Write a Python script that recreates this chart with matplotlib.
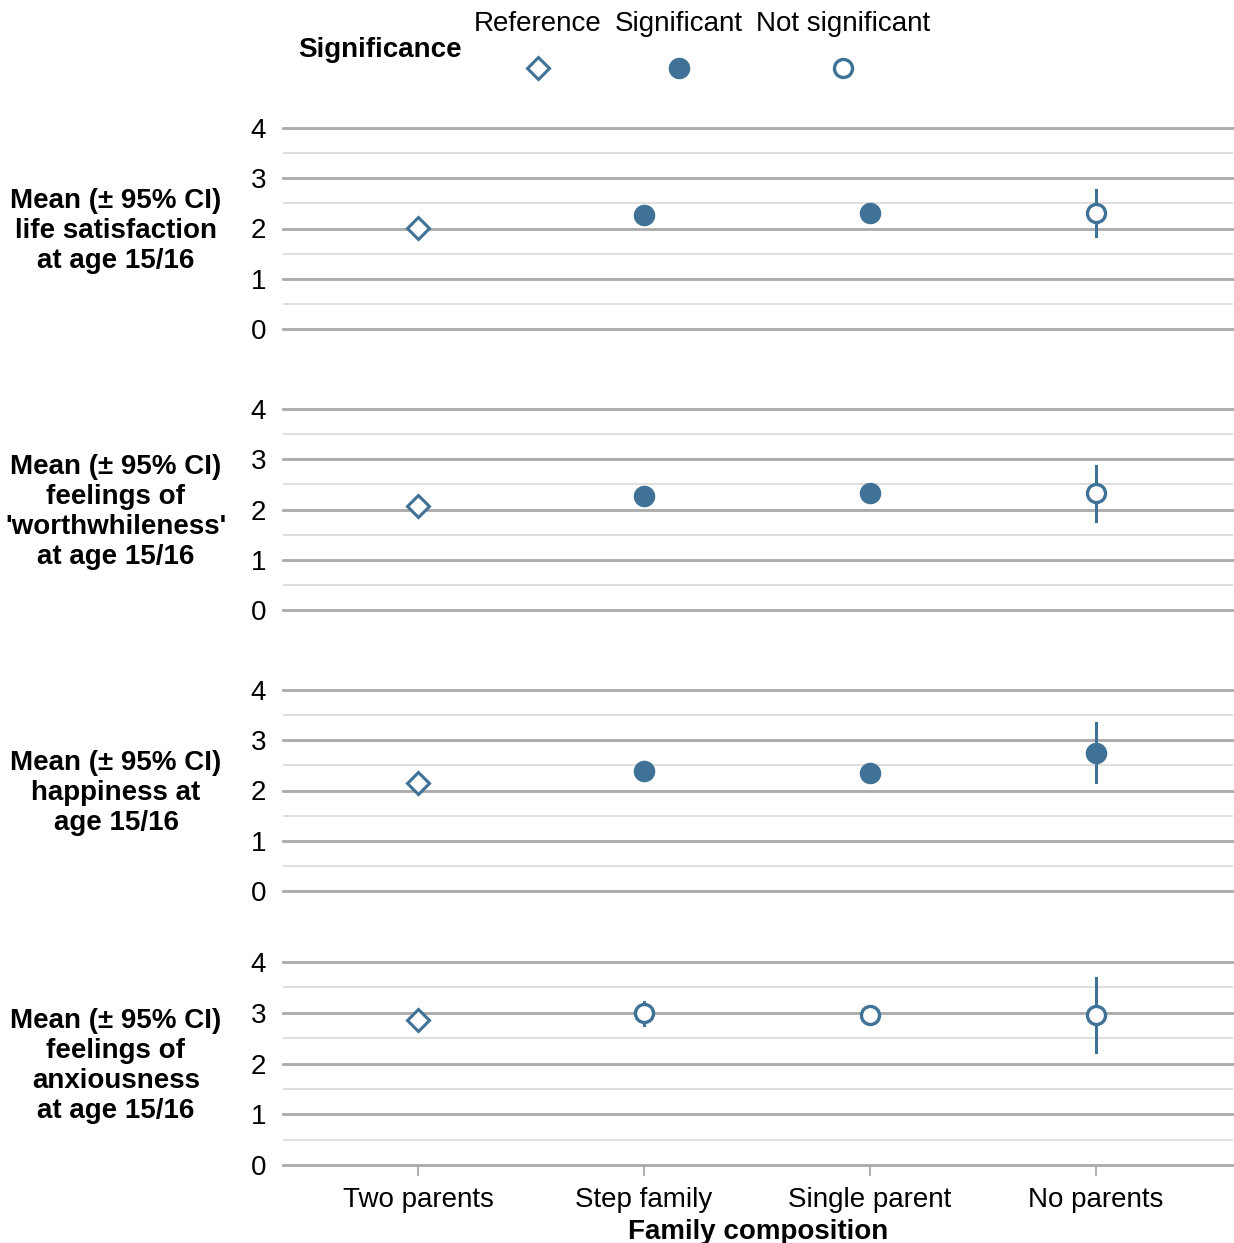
import numpy as np
import matplotlib
matplotlib.use("Agg")
from matplotlib import pyplot as plt
from matplotlib.lines import Line2D

plt.rcParams['font.family'] = ['Liberation Sans', 'DejaVu Sans']

# categorias e dados
familias = ["Two parents", "Step family", "Single parent", "No parents"]
rotulos = ["Mean (± 95% CI)\nlife satisfaction\nat age 15/16",
           "Mean (± 95% CI)\nfeelings of\n'worthwhileness'\nat age 15/16",
           "Mean (± 95% CI)\nhappiness at\nage 15/16",
           "Mean (± 95% CI)\nfeelings of\nanxiousness\nat age 15/16"]

media_satisf = [2.01, 2.27, 2.31, 2.31]
ic_baixo_satisf = [1.95, 2.18, 2.23, 1.85]
ic_alto_satisf = [2.07, 2.36, 2.39, 2.77]
sig_satisf = ["Reference", "Significant", "Significant", "Not significant"]

media_worth = [2.07, 2.26, 2.32, 2.32]
ic_baixo_worth = [2.01, 2.17, 2.24, 1.77]
ic_alto_worth = [2.13, 2.35, 2.40, 2.87]
sig_worth = ["Reference", "Significant", "Significant", "Not significant"]

media_felic = [2.15, 2.39, 2.35, 2.75]
ic_baixo_felic = [2.08, 2.29, 2.26, 2.17]
ic_alto_felic = [2.22, 2.49, 2.44, 3.34]
sig_felic = ["Reference", "Significant", "Significant", "Significant"]

media_ansied = [2.86, 3.00, 2.96, 2.96]
ic_baixo_ansied = [2.78, 2.76, 2.86, 2.23]
ic_alto_ansied = [2.94, 3.21, 3.06, 3.68]
sig_ansied = ["Reference", "Not significant", "Not significant", "Not significant"]

paineis = [
    (media_satisf, ic_baixo_satisf, ic_alto_satisf, sig_satisf),
    (media_worth, ic_baixo_worth, ic_alto_worth, sig_worth),
    (media_felic, ic_baixo_felic, ic_alto_felic, sig_felic),
    (media_ansied, ic_baixo_ansied, ic_alto_ansied, sig_ansied),
]

cor = "#3f7296"
estilos = {
    "Reference": dict(marker="D", ms=11.5, mfc="white", mec=cor, mew=2.2),
    "Significant": dict(marker="o", ms=15.5, mfc=cor, mec=cor, mew=0),
    "Not significant": dict(marker="o", ms=13, mfc="white", mec=cor, mew=2.4),
}

fs = 20
W, H = 1234, 1243
fig = plt.figure(figsize=(W / 100, H / 100), dpi=100)

# posicoes dos paineis (pixels: topo, base)
topos = [128, 409, 690, 962]
bases = [329, 610, 891, 1165]
x_esq, x_dir = 283, 1233

x = np.arange(len(familias))
for i, (media, lo, hi, sig) in enumerate(paineis):
    ax = fig.add_axes([x_esq / W, 1 - bases[i] / H, (x_dir - x_esq) / W,
                       (bases[i] - topos[i]) / H])
    for g in [0, 1, 2, 3, 4]:
        ax.axhline(g, color="#a9a9a9", lw=2.0, zorder=1, clip_on=False)
    for g in [0.5, 1.5, 2.5, 3.5]:
        ax.axhline(g, color="#dcdcdc", lw=1.3, zorder=1)
    for j in range(len(familias)):
        ax.plot([x[j], x[j]], [lo[j], hi[j]], color=cor, lw=2.2, zorder=2)
        ax.plot(x[j], media[j], ls="none", zorder=3, **estilos[sig[j]])
    ax.set_xlim(-0.597, 3.606)
    ax.set_ylim(0, 4)
    ax.set_yticks([0, 1, 2, 3, 4])
    ax.tick_params(axis="y", length=0, pad=12, labelsize=fs)
    for s in ax.spines.values():
        s.set_visible(False)
    ax.patch.set_alpha(0)
    if i == 3:
        ax.set_xticks(x)
        ax.set_xticklabels(familias, fontsize=fs)
        ax.tick_params(axis="x", length=8, width=1.3, color="#a9a9a9", pad=8)
        ax.set_xlabel("Family composition", fontsize=fs, fontweight="bold", labelpad=4)
    else:
        ax.set_xticks([])
    yc = (topos[i] + bases[i]) / 2
    fig.text(116 / W, 1 - (yc + 2) / H, rotulos[i], ha="center", va="center",
             fontsize=fs, fontweight="bold", linespacing=1.2)

# legenda
fig.text(380 / W, 1 - 50 / H, "Significance", ha="center", va="center",
         fontsize=fs, fontweight="bold")
leg_x = [538, 679, 843]
for nome, lx in zip(["Reference", "Significant", "Not significant"], leg_x):
    fig.text(lx / W, 1 - 24 / H, nome, ha="center", va="center", fontsize=fs)
    fig.add_artist(Line2D([lx / W], [1 - 68 / H], transform=fig.transFigure,
                          ls="none", **estilos[nome]))

fig.savefig("out.png", dpi=100)
